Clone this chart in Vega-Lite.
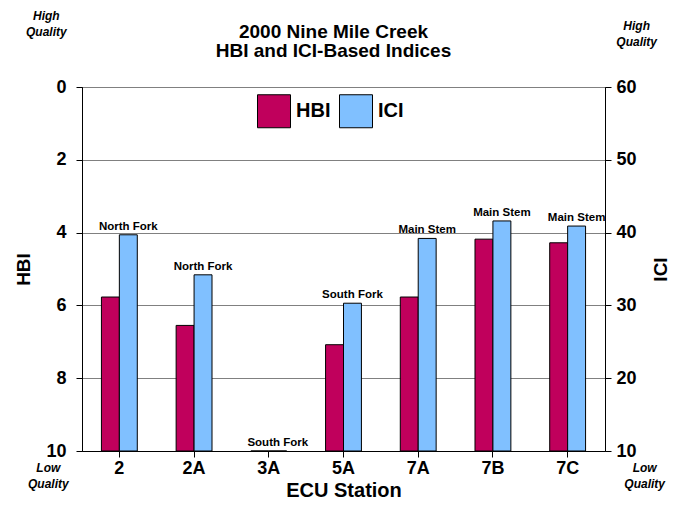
{
  "$schema": "https://vega.github.io/schema/vega-lite/v6.json",
  "width": 523,
  "height": 364,
  "autosize": {"type": "none"},
  "padding": {"left": 82, "top": 87, "right": 79, "bottom": 55},
  "background": "white",
  "config": {
    "font": "Liberation Sans",
    "view": {"stroke": "#000", "strokeWidth": 1}
  },
  "title": {
    "text": ["2000 Nine Mile Creek", "HBI and ICI-Based Indices"],
    "fontSize": 19,
    "fontWeight": "bold",
    "lineHeight": 19,
    "anchor": "middle",
    "offset": -51,
    "dx": -10,
    "color": "#000"
  },
  "data": {
    "values": [
      {"station": "2", "series": "HBI", "value": 5.77, "label": "North Fork"},
      {"station": "2A", "series": "HBI", "value": 6.55, "label": "North Fork"},
      {"station": "3A", "series": "HBI", "value": 10, "label": "South Fork"},
      {"station": "5A", "series": "HBI", "value": 7.08, "label": "South Fork"},
      {"station": "7A", "series": "HBI", "value": 5.77, "label": "Main Stem"},
      {"station": "7B", "series": "HBI", "value": 4.18, "label": "Main Stem"},
      {"station": "7C", "series": "HBI", "value": 4.28, "label": "Main Stem"},
      {"station": "2", "series": "ICI", "value": 39.7, "label": "North Fork"},
      {"station": "2A", "series": "ICI", "value": 34.2, "label": "North Fork"},
      {"station": "3A", "series": "ICI", "value": 10, "label": "South Fork"},
      {"station": "5A", "series": "ICI", "value": 30.3, "label": "South Fork"},
      {"station": "7A", "series": "ICI", "value": 39.2, "label": "Main Stem"},
      {"station": "7B", "series": "ICI", "value": 41.6, "label": "Main Stem"},
      {"station": "7C", "series": "ICI", "value": 40.9, "label": "Main Stem"}
    ]
  },
  "layer": [
    {
      "layer": [
        {
          "transform": [{"filter": "datum.series === 'HBI'"}],
          "mark": {"type": "bar", "stroke": "#000", "strokeWidth": 1},
          "encoding": {
            "x": {
              "field": "station",
              "type": "nominal",
              "scale": {"domain": ["2", "2A", "3A", "5A", "7A", "7B", "7C"], "paddingInner": 0.52, "paddingOuter": 0.26},
              "axis": {
                "title": "ECU Station",
                "labelAngle": 0,
                "labelFontSize": 18,
                "labelFontWeight": "bold",
                "labelColor": "#000",
                "tickSize": 6,
                "tickColor": "#000",
                "domainColor": "#000",
                "labelPadding": 2,
                "titleFontSize": 20,
                "titleFontWeight": "bold",
                "titleColor": "#000",
                "titlePadding": 3
              }
            },
            "xOffset": {
              "field": "series",
              "type": "nominal",
              "scale": {"domain": ["HBI", "ICI"], "paddingInner": 0, "paddingOuter": 0}
            },
            "y": {
              "field": "value",
              "type": "quantitative",
              "scale": {"domain": [0, 10], "reverse": true, "nice": false, "zero": false},
              "axis": {
                "title": "HBI",
                "orient": "left",
                "values": [0, 2, 4, 6, 8, 10],
                "grid": true,
                "gridColor": "#808080",
                "gridWidth": 1,
                "labelFontSize": 18,
                "labelFontWeight": "bold",
                "labelColor": "#000",
                "tickSize": 6,
                "tickColor": "#000",
                "domainColor": "#000",
                "labelPadding": 10,
                "titleFontSize": 19,
                "titleFontWeight": "bold",
                "titleColor": "#000",
                "titlePadding": 12
              }
            },
            "y2": {"datum": 10},
            "color": {
              "field": "series",
              "type": "nominal",
              "scale": {"domain": ["HBI", "ICI"], "range": ["#C0005C", "#80C0FF"]},
              "legend": {
                "orient": "none",
                "legendX": 175,
                "legendY": 7,
                "direction": "horizontal",
                "title": null,
                "symbolType": "square",
                "symbolSize": 1089,
                "symbolStrokeColor": "#000",
                "symbolStrokeWidth": 1,
                "symbolOpacity": 1,
                "labelFontSize": 20,
                "labelFontWeight": "bold",
                "labelColor": "#000",
                "labelOffset": 5,
                "columnPadding": 6,
                "padding": 0
              }
            }
          }
        },
        {
          "data": {"values": [{}]},
          "mark": {"type": "text", "fontSize": 12, "fontStyle": "italic", "fontWeight": "bold", "lineHeight": 16, "align": "center", "baseline": "alphabetic", "dx": -73, "dy": -67, "color": "#000"},
          "encoding": {
            "x": {"datum": "2", "type": "nominal"},
            "y": {"datum": 0, "type": "quantitative"},
            "text": {"value": ["High", "Quality"]}
          }
        },
        {
          "data": {"values": [{}]},
          "mark": {"type": "text", "fontSize": 12, "fontStyle": "italic", "fontWeight": "bold", "lineHeight": 16, "align": "center", "baseline": "alphabetic", "dx": -71, "dy": 21, "color": "#000"},
          "encoding": {
            "x": {"datum": "2", "type": "nominal"},
            "y": {"datum": 10, "type": "quantitative"},
            "text": {"value": ["Low", "Quality"]}
          }
        }
      ]
    },
    {
      "layer": [
        {
          "transform": [{"filter": "datum.series === 'ICI'"}],
          "mark": {"type": "bar", "stroke": "#000", "strokeWidth": 1},
          "encoding": {
            "x": {"field": "station", "type": "nominal"},
            "xOffset": {"field": "series", "type": "nominal"},
            "y": {
              "field": "value",
              "type": "quantitative",
              "scale": {"domain": [10, 60], "nice": false, "zero": false},
              "axis": {
                "title": "ICI",
                "orient": "right",
                "values": [10, 20, 30, 40, 50, 60],
                "grid": false,
                "labelFontSize": 18,
                "labelFontWeight": "bold",
                "labelColor": "#000",
                "tickSize": 6,
                "tickColor": "#000",
                "domainColor": "#000",
                "labelPadding": 5,
                "titleFontSize": 19,
                "titleFontWeight": "bold",
                "titleColor": "#000",
                "titleAngle": 270,
                "titlePadding": 34
              }
            },
            "y2": {"datum": 10},
            "color": {"field": "series", "type": "nominal"}
          }
        },
        {
          "transform": [{"filter": "datum.series === 'ICI'"}],
          "mark": {"type": "text", "fontSize": 11.5, "fontWeight": "bold", "baseline": "alphabetic", "dy": -5, "color": "#000"},
          "encoding": {
            "x": {"field": "station", "type": "nominal"},
            "xOffset": {"field": "series", "type": "nominal"},
            "y": {"field": "value", "type": "quantitative"},
            "text": {"field": "label"}
          }
        },
        {
          "data": {"values": [{}]},
          "mark": {"type": "text", "fontSize": 12, "fontStyle": "italic", "fontWeight": "bold", "lineHeight": 16, "align": "center", "baseline": "alphabetic", "dx": 69, "dy": -57, "color": "#000"},
          "encoding": {
            "x": {"datum": "7C", "type": "nominal"},
            "y": {"datum": 60, "type": "quantitative"},
            "text": {"value": ["High", "Quality"]}
          }
        },
        {
          "data": {"values": [{}]},
          "mark": {"type": "text", "fontSize": 12, "fontStyle": "italic", "fontWeight": "bold", "lineHeight": 16, "align": "center", "baseline": "alphabetic", "dx": 77, "dy": 21, "color": "#000"},
          "encoding": {
            "x": {"datum": "7C", "type": "nominal"},
            "y": {"datum": 10, "type": "quantitative"},
            "text": {"value": ["Low", "Quality"]}
          }
        }
      ]
    }
  ],
  "resolve": {"scale": {"y": "independent"}, "axis": {"y": "independent"}}
}
